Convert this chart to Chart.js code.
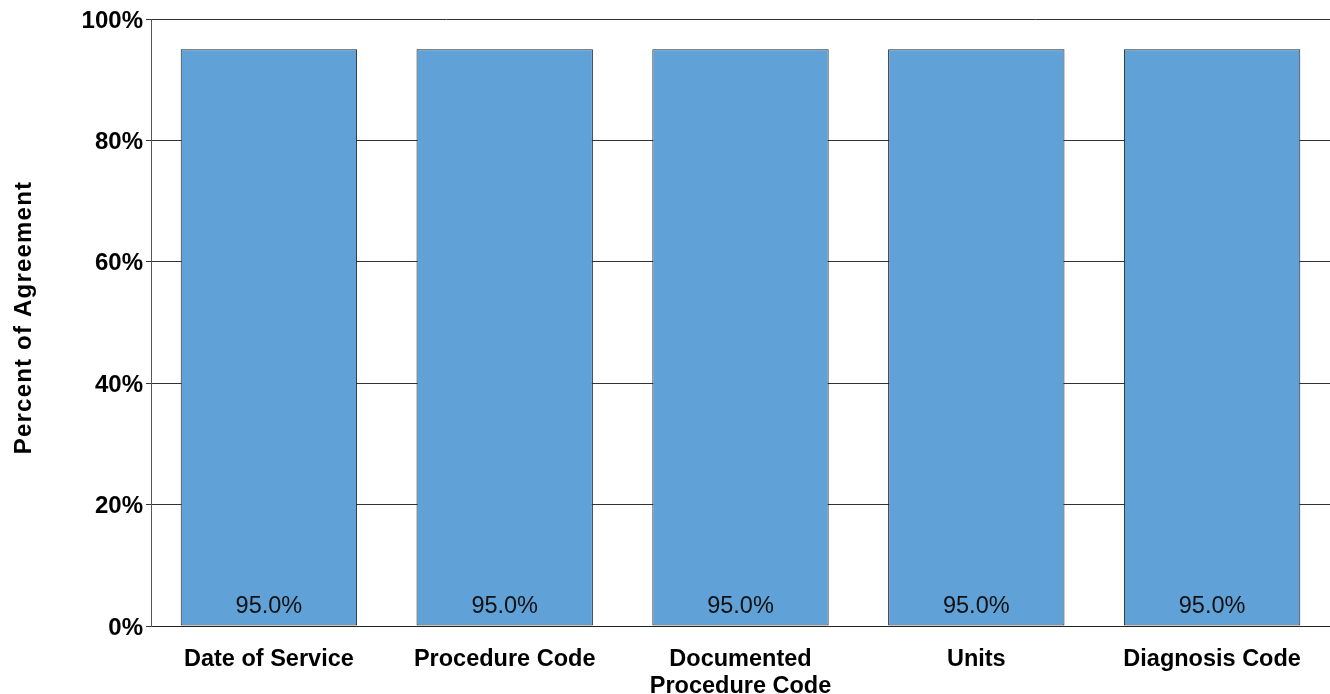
<!DOCTYPE html>
<html>
<head>
<meta charset="utf-8">
<script src="https://cdn.jsdelivr.net/npm/chart.js@4/dist/chart.umd.min.js"></script>
<style>
  html, body { margin: 0; padding: 0; background: #fff; }
  #wrap { width: 1330px; height: 694px; }
</style>
</head>
<body>
<div id="wrap"><canvas id="chart"></canvas></div>
<script>
const categories = ['Date of Service', 'Procedure Code', ['Documented', 'Procedure Code'], 'Units', 'Diagnosis Code'];
const agreement = [95.0, 95.0, 95.0, 95.0, 95.0];
const yTicks = [0, 20, 40, 60, 80, 100];
const yTitle = 'Percent of Agreement';

const FONT = '"Liberation Sans", Arial, sans-serif';

// y tick labels, y title and the value labels near the base of each bar
const extraText = {
  id: 'extraText',
  afterDatasetsDraw(chart) {
    const ctx = chart.ctx;
    const y = chart.scales.y;
    ctx.save();
    ctx.fillStyle = '#000';
    ctx.textBaseline = 'alphabetic';

    ctx.font = 'bold 24px ' + FONT;
    ctx.textAlign = 'right';
    yTicks.forEach(v => {
      ctx.fillText(v + '%', y.right - 8, y.getPixelForValue(v) + 8.5);
    });

    ctx.save();
    ctx.translate(31, (chart.chartArea.top + chart.chartArea.bottom) / 2 - 5);
    ctx.rotate(-Math.PI / 2);
    ctx.textAlign = 'center';
    ctx.font = 'bold 24px ' + FONT;
    ctx.letterSpacing = '1.2px';
    ctx.fillText(yTitle, 0, 0);
    ctx.restore();

    ctx.font = '23.5px ' + FONT;
    ctx.fillStyle = '#111';
    ctx.textAlign = 'center';
    chart.getDatasetMeta(0).data.forEach((bar, i) => {
      ctx.fillText(agreement[i].toFixed(1) + '%', bar.x, bar.base - 13);
    });
    ctx.restore();
  }
};

new Chart(document.getElementById('chart').getContext('2d'), {
  type: 'bar',
  data: {
    labels: categories,
    datasets: [{
      data: agreement,
      backgroundColor: '#60a2d7',
      borderColor: '#222',
      borderWidth: 1,
      borderSkipped: false,
      categoryPercentage: 1,
      barPercentage: 0.748
    }]
  },
  options: {
    responsive: true,
    maintainAspectRatio: false,
    animation: false,
    layout: { padding: { top: 19, right: 0, bottom: 0, left: 0 } },
    plugins: {
      legend: { display: false },
      tooltip: { enabled: false }
    },
    scales: {
      x: {
        grid: { display: false },
        border: { display: true, color: '#222', width: 1 },
        ticks: {
          color: '#000',
          padding: 12,
          maxRotation: 0,
          autoSkip: false,
          font: { family: FONT, size: 23.5, weight: 'bold', lineHeight: 1.16 }
        },
        afterFit(scale) { scale.height = 68; }
      },
      y: {
        min: 0,
        max: 100,
        afterBuildTicks(scale) { scale.ticks = yTicks.map(v => ({ value: v })); },
        grid: { color: '#333', lineWidth: 1, tickLength: 5 },
        border: { display: true, color: '#555', width: 1 },
        ticks: { display: false },
        afterFit(scale) { scale.width = 151; }
      }
    }
  },
  plugins: [extraText]
});
</script>
</body>
</html>
